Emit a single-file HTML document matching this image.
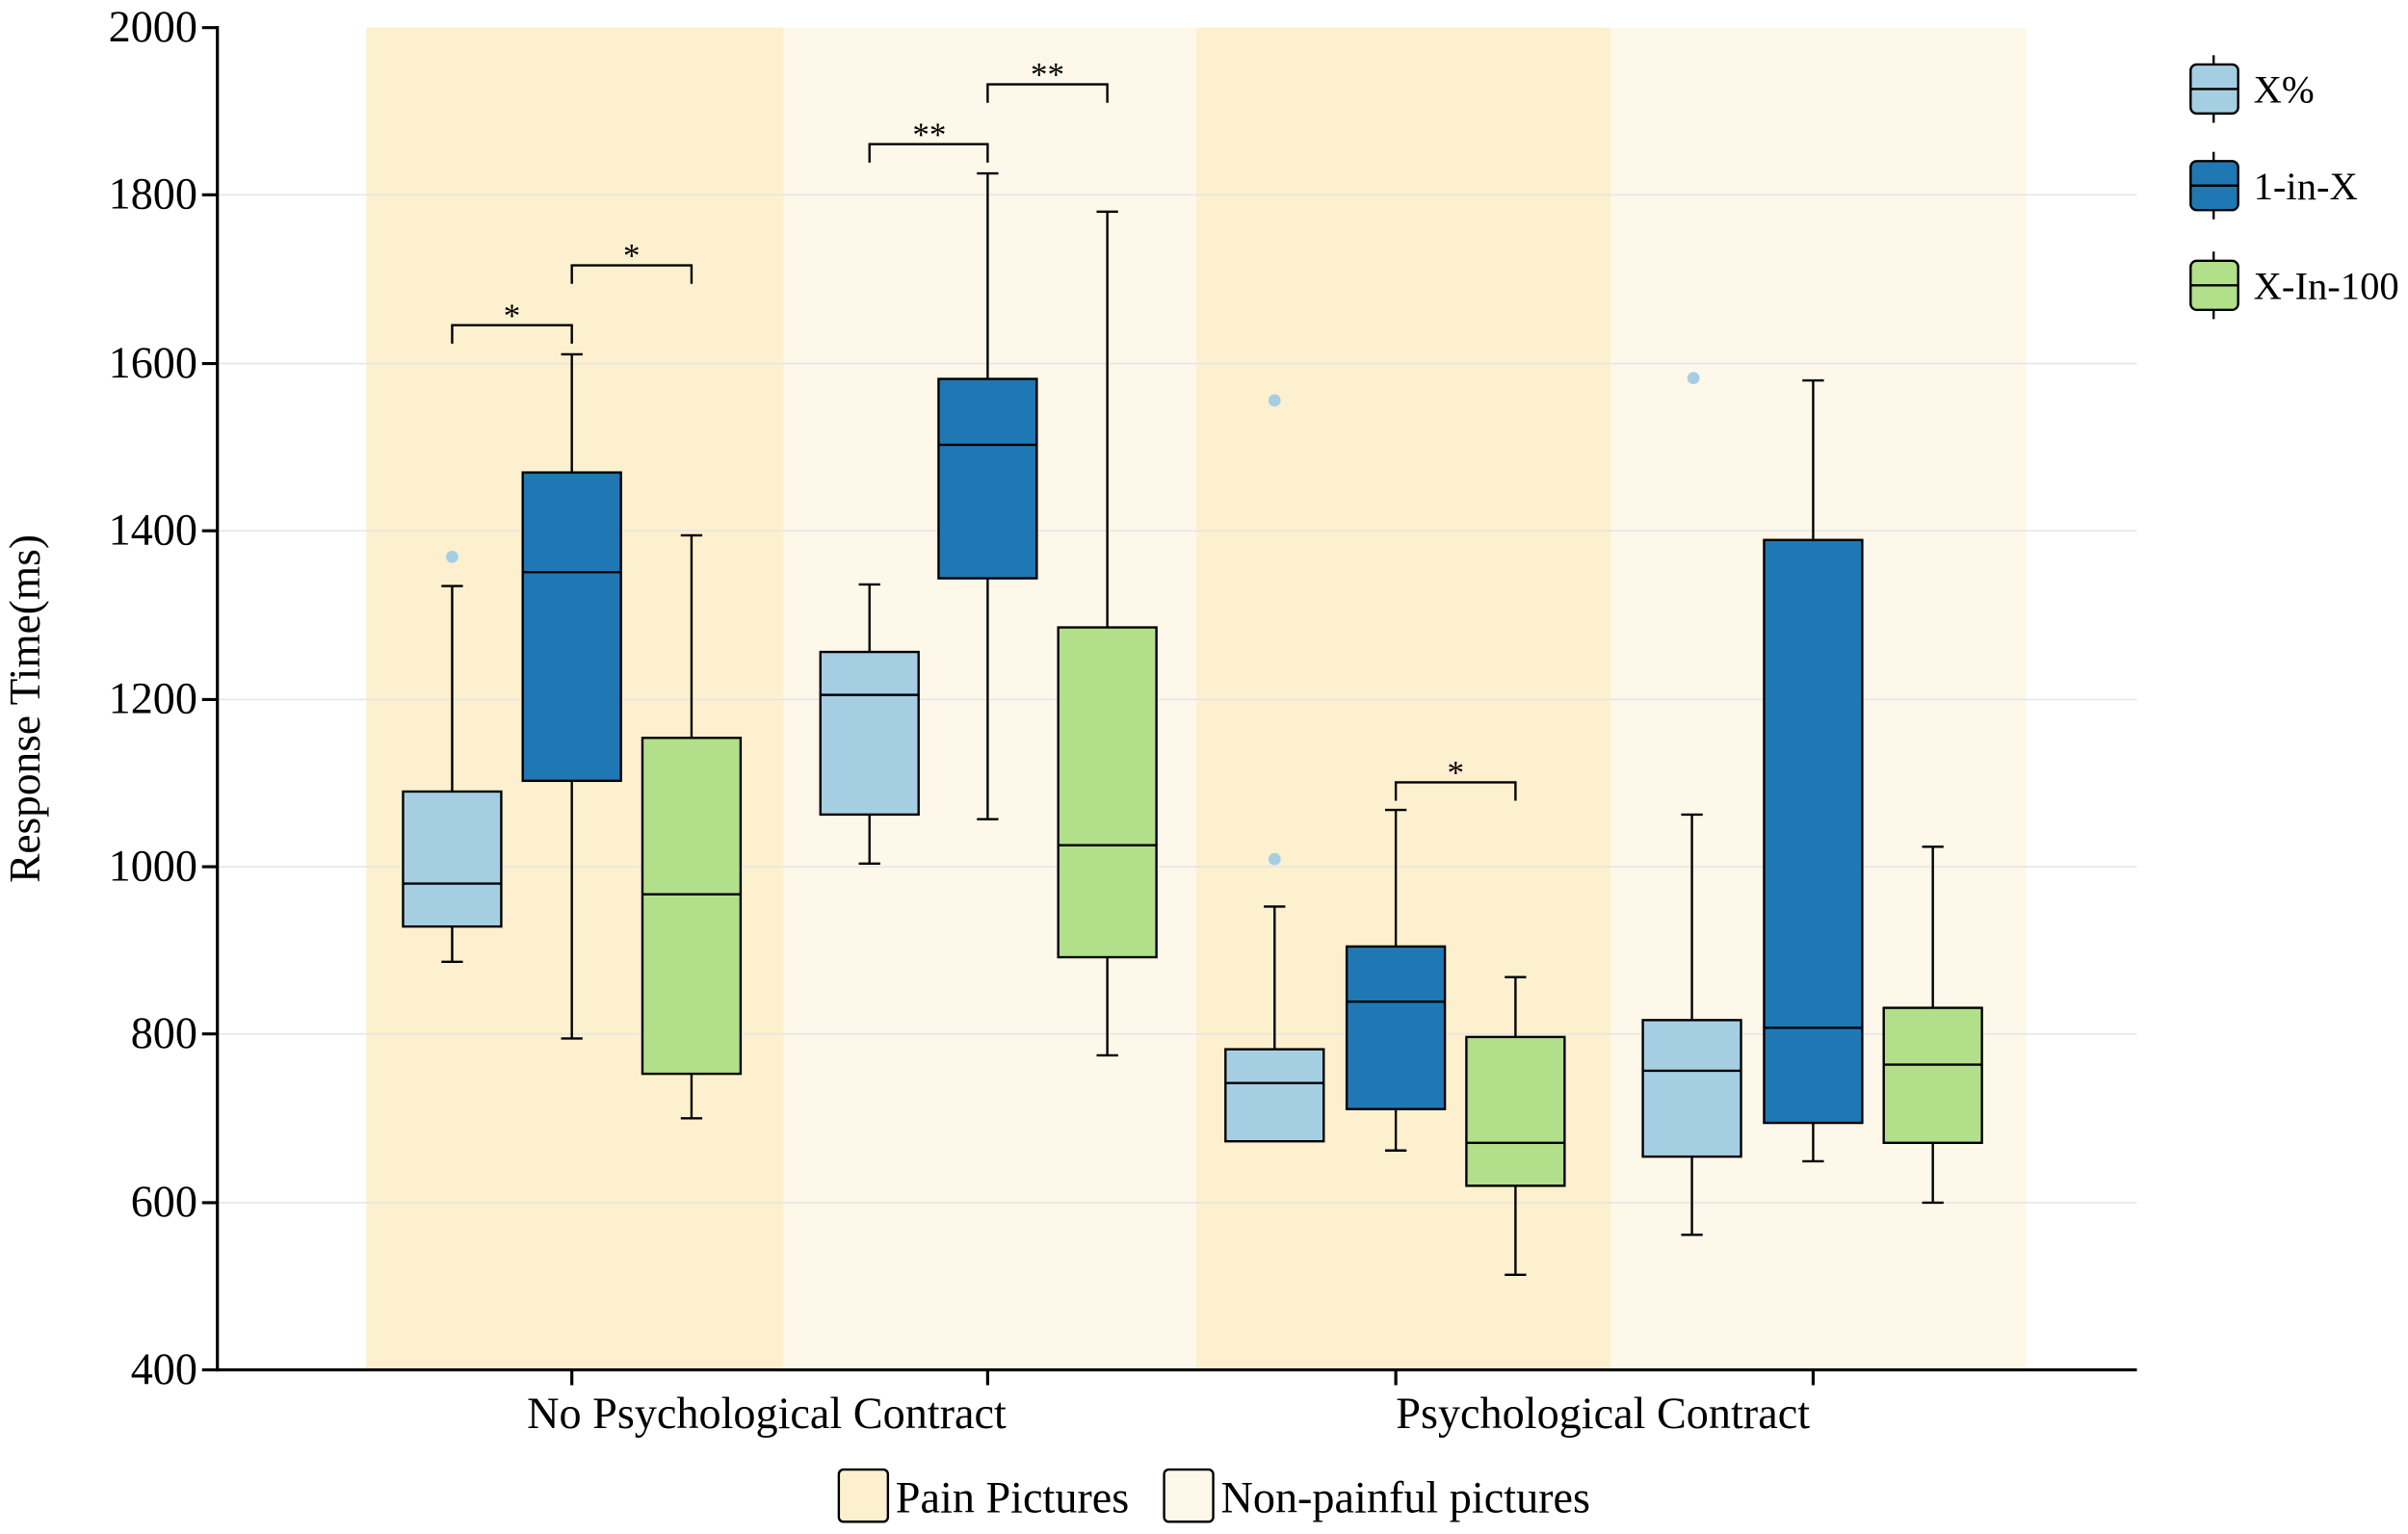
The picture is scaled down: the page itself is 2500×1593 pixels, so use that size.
<!DOCTYPE html>
<html><head><meta charset="utf-8"><style>html,body{margin:0;padding:0;background:#fff}svg{display:block}</style></head><body>
<svg width="2500" height="1593" viewBox="0 0 1568 1000" xmlns="http://www.w3.org/2000/svg" font-family="Liberation Serif, serif">
<rect width="1568" height="1000" fill="#fff"/>
<rect x="238" y="18" width="272" height="875" fill="#fdf0cf"/>
<rect x="510" y="18" width="269" height="875" fill="#fef8ea"/>
<rect x="779" y="18" width="270" height="875" fill="#fdf0cf"/>
<rect x="1049" y="18" width="271" height="875" fill="#fef8ea"/>
<g stroke="#e6e6e6" stroke-width="1">
<line x1="141" x2="1392" y1="127" y2="127"/><line x1="141" x2="1392" y1="237" y2="237"/><line x1="141" x2="1392" y1="346" y2="346"/><line x1="141" x2="1392" y1="456" y2="456"/><line x1="141" x2="1392" y1="565" y2="565"/><line x1="141" x2="1392" y1="674" y2="674"/><line x1="141" x2="1392" y1="784" y2="784"/>
</g>
<g stroke="#000" stroke-width="2" fill="none">
<line x1="141" y1="17" x2="141" y2="894"/><line x1="140" y1="893" x2="1392" y2="893"/>
<line x1="131" x2="141" y1="18" y2="18"/><line x1="131" x2="141" y1="127" y2="127"/><line x1="131" x2="141" y1="237" y2="237"/><line x1="131" x2="141" y1="346" y2="346"/><line x1="131" x2="141" y1="456" y2="456"/><line x1="131" x2="141" y1="565" y2="565"/><line x1="131" x2="141" y1="674" y2="674"/><line x1="131" x2="141" y1="784" y2="784"/><line x1="131" x2="141" y1="893" y2="893"/>
<line x1="372" x2="372" y1="893" y2="903"/><line x1="643" x2="643" y1="893" y2="903"/><line x1="909" x2="909" y1="893" y2="903"/><line x1="1181" x2="1181" y1="893" y2="903"/>
</g>
<g font-size="29" text-anchor="end" fill="#000">
<text x="128" y="27">2000</text><text x="128" y="136">1800</text><text x="128" y="246">1600</text><text x="128" y="355">1400</text><text x="128" y="465">1200</text><text x="128" y="574">1000</text><text x="128" y="683">800</text><text x="128" y="793">600</text><text x="128" y="902">400</text>
</g>
<text transform="translate(25,462) rotate(-90)" font-size="28.5" text-anchor="middle">Response Time(ms)</text>
<text x="499" y="931" font-size="29" text-anchor="middle">No Psychological Contract</text>
<text x="1044" y="931" font-size="29" text-anchor="middle">Psychological Contract</text>
<g stroke="#000" stroke-width="1.5">
<line x1="294" x2="294" y1="382" y2="627"/><line x1="287" x2="301" y1="382" y2="382"/><line x1="287" x2="301" y1="627" y2="627"/><rect x="262" y="516" width="64" height="88" fill="#a6cee3"/><line x1="262" x2="326" y1="576" y2="576"/>
<line x1="372" x2="372" y1="231" y2="677"/><line x1="365" x2="379" y1="231" y2="231"/><line x1="365" x2="379" y1="677" y2="677"/><rect x="340" y="308" width="64" height="201" fill="#1f78b4"/><line x1="340" x2="404" y1="373" y2="373"/>
<line x1="450" x2="450" y1="349" y2="729"/><line x1="443" x2="457" y1="349" y2="349"/><line x1="443" x2="457" y1="729" y2="729"/><rect x="418" y="481" width="64" height="219" fill="#b2df8a"/><line x1="418" x2="482" y1="583" y2="583"/>
<line x1="566" x2="566" y1="381" y2="563"/><line x1="559" x2="573" y1="381" y2="381"/><line x1="559" x2="573" y1="563" y2="563"/><rect x="534" y="425" width="64" height="106" fill="#a6cee3"/><line x1="534" x2="598" y1="453" y2="453"/>
<line x1="643" x2="643" y1="113" y2="534"/><line x1="636" x2="650" y1="113" y2="113"/><line x1="636" x2="650" y1="534" y2="534"/><rect x="611" y="247" width="64" height="130" fill="#1f78b4"/><line x1="611" x2="675" y1="290" y2="290"/>
<line x1="721" x2="721" y1="138" y2="688"/><line x1="714" x2="728" y1="138" y2="138"/><line x1="714" x2="728" y1="688" y2="688"/><rect x="689" y="409" width="64" height="215" fill="#b2df8a"/><line x1="689" x2="753" y1="551" y2="551"/>
<line x1="830" x2="830" y1="591" y2="730"/><line x1="823" x2="837" y1="591" y2="591"/><line x1="823" x2="837" y1="730" y2="730"/><rect x="798" y="684" width="64" height="60" fill="#a6cee3"/><line x1="798" x2="862" y1="706" y2="706"/>
<line x1="909" x2="909" y1="528" y2="750"/><line x1="902" x2="916" y1="528" y2="528"/><line x1="902" x2="916" y1="750" y2="750"/><rect x="877" y="617" width="64" height="106" fill="#1f78b4"/><line x1="877" x2="941" y1="653" y2="653"/>
<line x1="987" x2="987" y1="637" y2="831"/><line x1="980" x2="994" y1="637" y2="637"/><line x1="980" x2="994" y1="831" y2="831"/><rect x="955" y="676" width="64" height="97" fill="#b2df8a"/><line x1="955" x2="1019" y1="745" y2="745"/>
<line x1="1102" x2="1102" y1="531" y2="805"/><line x1="1095" x2="1109" y1="531" y2="531"/><line x1="1095" x2="1109" y1="805" y2="805"/><rect x="1070" y="665" width="64" height="89" fill="#a6cee3"/><line x1="1070" x2="1134" y1="698" y2="698"/>
<line x1="1181" x2="1181" y1="248" y2="757"/><line x1="1174" x2="1188" y1="248" y2="248"/><line x1="1174" x2="1188" y1="757" y2="757"/><rect x="1149" y="352" width="64" height="380" fill="#1f78b4"/><line x1="1149" x2="1213" y1="670" y2="670"/>
<line x1="1259" x2="1259" y1="552" y2="784"/><line x1="1252" x2="1266" y1="552" y2="552"/><line x1="1252" x2="1266" y1="784" y2="784"/><rect x="1227" y="657" width="64" height="88" fill="#b2df8a"/><line x1="1227" x2="1291" y1="694" y2="694"/>
</g>
<g fill="#a6cee3"><circle cx="294" cy="363" r="4"/><circle cx="830" cy="261" r="4"/><circle cx="830" cy="560" r="4"/><circle cx="1103" cy="246.5" r="4"/></g>
<g stroke="#000" stroke-width="1.5" fill="none">
<polyline points="294,224 294,212 372,212 372,224"/>
<polyline points="372,185 372,173 450,173 450,185"/>
<polyline points="566,106 566,94 643,94 643,106"/>
<polyline points="643,67 643,55 721,55 721,67"/>
<polyline points="909,522 909,510 987,510 987,522"/>
</g>
<g font-size="22" text-anchor="middle">
<text x="333" y="213">*</text><text x="411" y="174">*</text><text x="605" y="95">**</text><text x="682" y="56">**</text><text x="948" y="511">*</text>
</g>
<g stroke="#000" stroke-width="1.5">
<line x1="1442" x2="1442" y1="36" y2="80"/><rect x="1427" y="42" width="31" height="32" rx="4" fill="#a6cee3"/><line x1="1427" x2="1458" y1="58" y2="58"/>
<line x1="1442" x2="1442" y1="99" y2="143"/><rect x="1427" y="105" width="31" height="32" rx="4" fill="#1f78b4"/><line x1="1427" x2="1458" y1="121" y2="121"/>
<line x1="1442" x2="1442" y1="164" y2="208"/><rect x="1427" y="170" width="31" height="32" rx="4" fill="#b2df8a"/><line x1="1427" x2="1458" y1="186" y2="186"/>
<rect x="546" y="958" width="32" height="34" rx="3" fill="#fdf0cf"/>
<rect x="758" y="958" width="32" height="34" rx="3" fill="#fef8ea"/>
</g>
<g font-size="25.5">
<text x="1468" y="67">X%</text><text x="1468" y="130">1-in-X</text><text x="1468" y="195">X-In-100</text>
<text x="583" y="986" font-size="29">Pain Pictures</text><text x="795" y="986" font-size="29">Non-painful pictures</text>
</g>
</svg>
</body></html>
